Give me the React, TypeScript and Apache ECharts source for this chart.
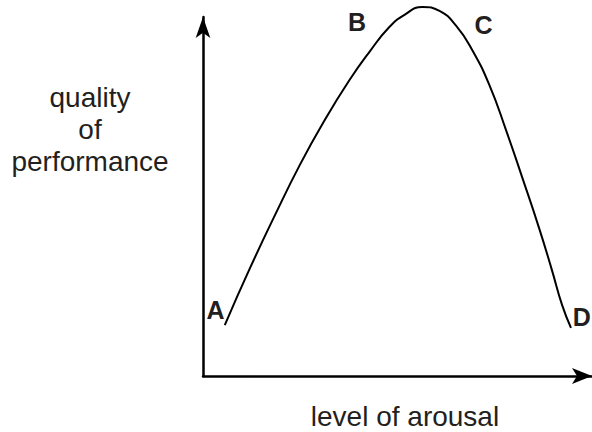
import React, { useEffect, useRef } from "react";
import * as echarts from "echarts";

// Inverted-U curve: level of arousal (x) vs quality of performance (y), arbitrary 0-10 units
const arousal = [0.56, 1.21, 1.85, 2.49, 3.13, 3.77, 4.28, 4.79, 5.18, 5.64, 6.08, 6.51, 6.92, 7.36, 7.79, 8.21, 8.64, 8.97, 9.23, 9.46];
const performance = [1.42, 3.01, 4.48, 5.88, 7.13, 8.25, 9.03, 9.72, 10.06, 10.28, 10.17, 9.75, 9.08, 8.11, 6.85, 5.52, 4.12, 2.95, 1.98, 1.34];

const pointNames = ["A", "B", "C", "D"];
const pointX = [0.32, 3.96, 7.21, 9.74];
const pointY = [1.85, 9.85, 9.78, 1.64];

const yTitle = ["quality", "of", "performance"];
const xTitle = "level of arousal";

export default function App() {
  const ref = useRef<HTMLDivElement>(null);
  useEffect(() => {
    if (!ref.current) return;
    const chart = echarts.init(ref.current, null, { renderer: "svg" });
    const font = '"Liberation Sans", Arial, Helvetica, sans-serif';
    const textColor = "#231f20";
    chart.setOption({
      animation: false,
      backgroundColor: "#ffffff",
      grid: { left: 203, right: -1, top: 17, bottom: 56 },
      xAxis: {
        type: "value",
        min: 0,
        max: 10,
        axisLine: {
          show: true,
          onZero: false,
          symbol: ["none", "arrow"],
          symbolSize: [12, 20],
          lineStyle: { color: "#000", width: 2.5 },
        },
        axisTick: { show: false },
        axisLabel: { show: false },
        splitLine: { show: false },
      },
      yAxis: {
        type: "value",
        min: 0,
        max: 10,
        axisLine: {
          show: true,
          onZero: false,
          symbol: ["none", "arrow"],
          symbolSize: [11, 21],
          lineStyle: { color: "#000", width: 2.5 },
        },
        axisTick: { show: false },
        axisLabel: { show: false },
        splitLine: { show: false },
      },
      series: [
        {
          type: "line",
          data: arousal.map((x, i) => [x, performance[i]]),
          smooth: 0.5,
          showSymbol: false,
          clip: false,
          lineStyle: { color: "#000", width: 2 },
        },
        {
          type: "scatter",
          data: pointNames.map((n, i) => ({ name: n, value: [pointX[i], pointY[i]] })),
          symbolSize: 1,
          clip: false,
          itemStyle: { color: "rgba(0,0,0,0)", opacity: 1 },
          label: {
            show: true,
            position: "inside",
            formatter: "{b}",
            fontFamily: font,
            fontWeight: "bold",
            fontSize: 25,
            color: textColor,
            opacity: 1,
            textBorderWidth: 0,
            align: "center",
            verticalAlign: "middle",
          },
        },
      ],
      graphic: [
        {
          type: "text",
          x: 90,
          y: 129,
          style: {
            text: yTitle.join("\n"),
            textAlign: "center",
            textVerticalAlign: "middle",
            fontFamily: font,
            fontSize: 28,
            lineHeight: 32,
            fill: textColor,
          },
        },
        {
          type: "text",
          x: 405,
          y: 416,
          style: {
            text: xTitle,
            textAlign: "center",
            textVerticalAlign: "middle",
            fontFamily: font,
            fontSize: 28,
            fill: textColor,
          },
        },
      ],
    });
    return () => chart.dispose();
  }, []);
  return (
    <div
      ref={ref}
      style={{ position: "fixed", left: 0, top: 0, width: 592, height: 432 }}
    />
  );
}
